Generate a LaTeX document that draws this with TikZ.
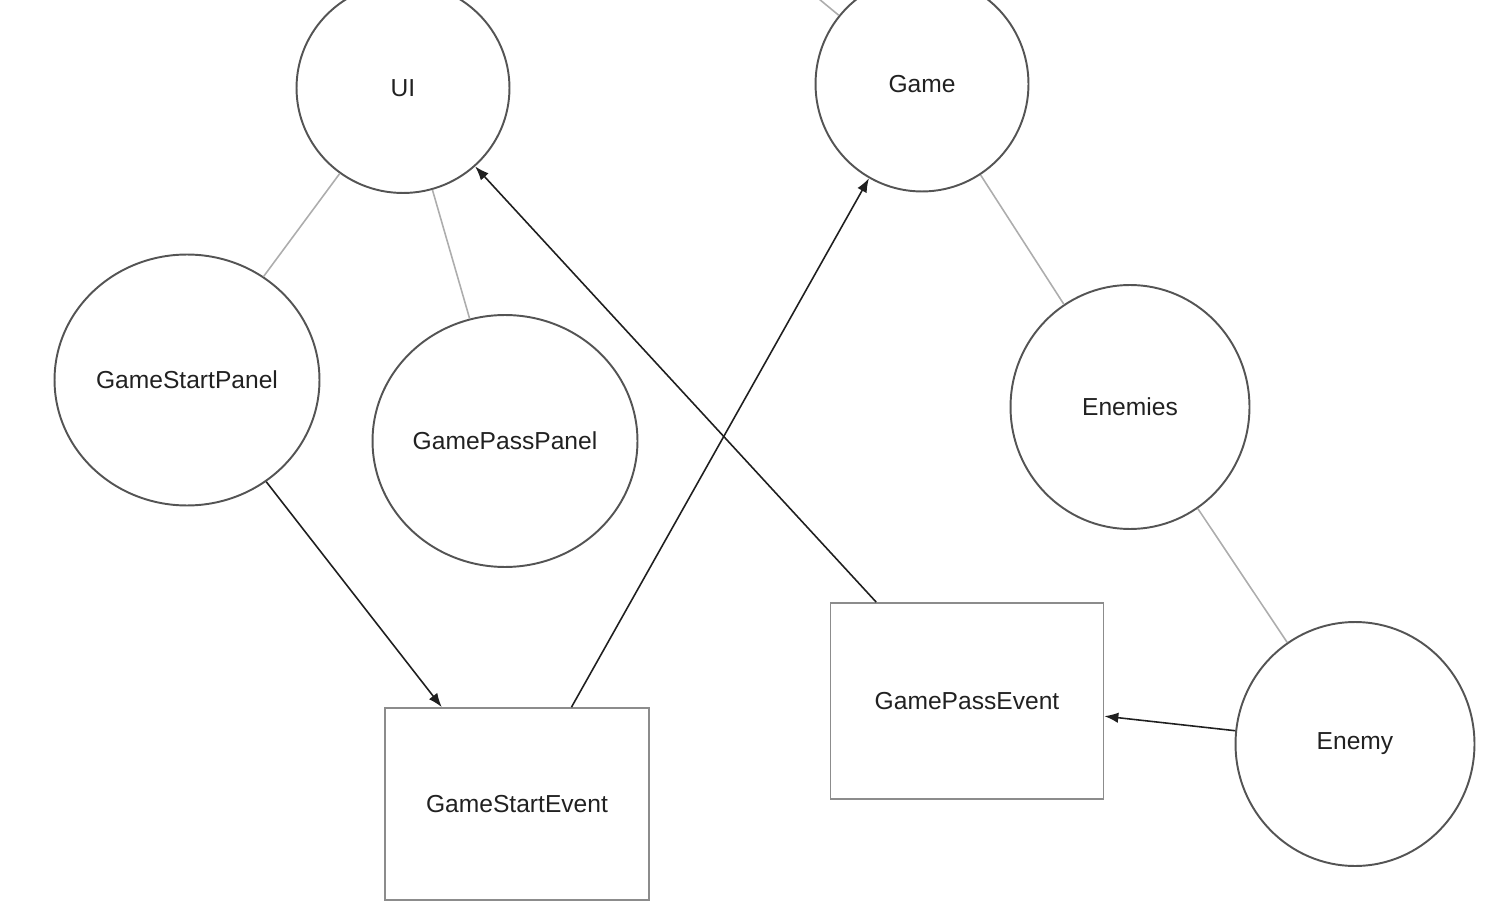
\documentclass[tikz,border=0pt]{standalone}
\usepackage{fontspec}
\setmainfont{Liberation Sans}
\usepackage{tikz}
\usetikzlibrary{shapes,arrows.meta}
\definecolor{ringcol}{gray}{0.33}
\definecolor{boxcol}{gray}{0.55}
\definecolor{linkcol}{gray}{0.68}
\definecolor{callcol}{gray}{0.12}
\definecolor{textcol}{gray}{0.13}
\newcommand{\partscale}{0.02}
\newcommand{\gamepart}[5]{
	\node [part, minimum width=#3cm, minimum height=#4cm] (#1) at (#2) {#5};}
\newcommand{\gameevent}[5]{
	\node [eventbox, minimum width=#3cm, minimum height=#4cm] (#1) at (#2) {#5};}

\begin{document}
\begin{tikzpicture}[x=\partscale cm,y=-\partscale cm,>={Latex[length=2.8mm,width=2.1mm]},
	part/.style={draw=ringcol, line width=1.1pt, ellipse, inner sep=0pt, text=textcol, font=\fontsize{14}{17}\selectfont},
	eventbox/.style={draw=boxcol, line width=1pt, rectangle, inner sep=0pt, text=textcol, font=\fontsize{14}{17}\selectfont},
	link/.style={draw=linkcol, line width=0.9pt},
	call/.style={->, draw=callcol, fill=callcol, line width=0.9pt}]
	\useasboundingbox (0,0) rectangle (1504,915);
	\clip (0,0) rectangle (1504,915);
	\gamepart{ui}{403,88}{4.26}{4.2}{UI}
	\gamepart{game}{922,84}{4.26}{4.3}{Game}
	\gamepart{startpanel}{187,380}{5.3}{5.02}{GameStartPanel}
	\gamepart{passpanel}{505,441}{5.3}{5.04}{GamePassPanel}
	\gamepart{enemies}{1130,407}{4.78}{4.88}{Enemies}
	\gamepart{enemy}{1355,744}{4.78}{4.88}{Enemy}
	\gameevent{startevent}{517,804}{5.28}{3.84}{GameStartEvent}
	\gameevent{passevent}{967,701}{5.46}{3.92}{GamePassEvent}
	\coordinate (offtop) at (796,-20);
	% tree links
	\draw [link] (offtop) -- (game);
	\draw [link] (ui) -- (startpanel);
	\draw [link] (ui) -- (passpanel);
	\draw [link] (game) -- (enemies);
	\draw [link] (enemies) -- (enemy);
	% event flow
	\draw [call] (startpanel) -- (startevent);
	\draw [call] (startevent) -- (game);
	\draw [call] (passevent) -- (ui);
	\draw [call] (enemy) -- (passevent);
\end{tikzpicture}
\end{document}
